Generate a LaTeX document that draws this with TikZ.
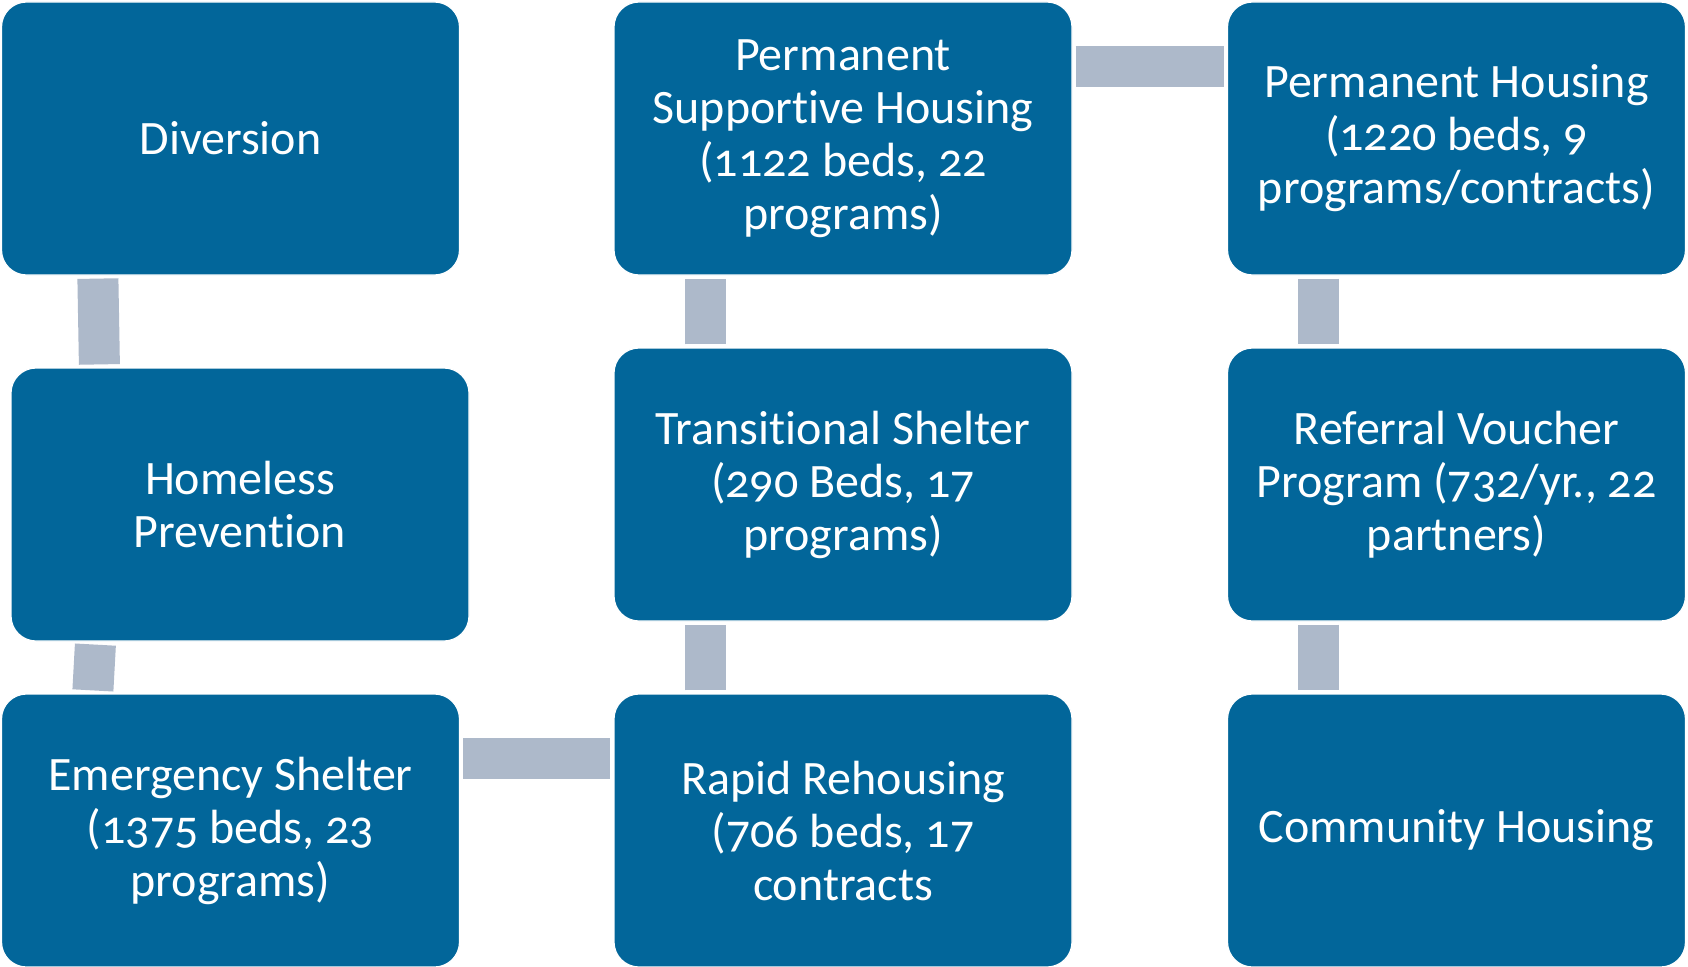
\documentclass[tikz,border=0pt]{standalone}
\usepackage{fontspec}
\setmainfont[Numbers=OldStyle,Ligatures=NoCommon]{Carlito}
\definecolor{boxblue}{HTML}{02669A}
\definecolor{conngray}{HTML}{ADB9CA}
\begin{document}
\begin{tikzpicture}[x=1pt,y=-1pt,
  stage/.style={rectangle, rounded corners=25pt, minimum width=458pt, minimum height=273pt,
    fill=boxblue, draw=white, line width=1.2pt, text=white, align=center, inner sep=0pt,
    font=\fontsize{48}{53}\selectfont},
  conn/.style={draw=conngray, line width=41pt}]
\useasboundingbox (0,0) rectangle (1688,966);
\node[stage] (div) at (230.5,138.5) {Diversion};
\node[stage] (hp)  at (240,504.5)   {Homeless\\Prevention};
\node[stage] (es)  at (230.5,830.5) {Emergency Shelter\\(1375 beds, 23\\programs)};
\node[stage] (psh) at (843,138.5)   {Permanent\\Supportive Housing\\(1122 beds, 22\\programs)};
\node[stage] (ts)  at (843,484.5)   {Transitional Shelter\\(290 Beds, 17\\programs)};
\node[stage] (rr)  at (843,830.5)   {Rapid Rehousing\\(706 beds, 17\\contracts};
\node[stage] (ph)  at (1456.5,138.5) {Permanent Housing\\(1220 beds, 9\\programs/contracts)};
\node[stage] (rv)  at (1456.5,484.5) {Referral Voucher\\Program (732/yr., 22\\partners)};
\node[stage] (ch)  at (1456.5,830.5) {Community Housing};
% connectors
\draw[conn] ([shift={(97,3)}]div.south west) -- ([shift={(89,-3)}]hp.north west);
\draw[conn] ([shift={(85,3)}]hp.south west) -- ([shift={(92,-3)}]es.north west);
\draw[conn] ([shift={(3,65)}]es.north east) -- ([shift={(-3,65)}]rr.north west);
\draw[conn] ([shift={(92,-3)}]rr.north west) -- ([shift={(92,3)}]ts.south west);
\draw[conn] ([shift={(92,-3)}]ts.north west) -- ([shift={(92,3)}]psh.south west);
\draw[conn] ([shift={(3,65.5)}]psh.north east) -- ([shift={(-3,65.5)}]ph.north west);
\draw[conn] ([shift={(91.5,3)}]ph.south west) -- ([shift={(91.5,-3)}]rv.north west);
\draw[conn] ([shift={(91.5,3)}]rv.south west) -- ([shift={(91.5,-3)}]ch.north west);
\end{tikzpicture}
\end{document}
